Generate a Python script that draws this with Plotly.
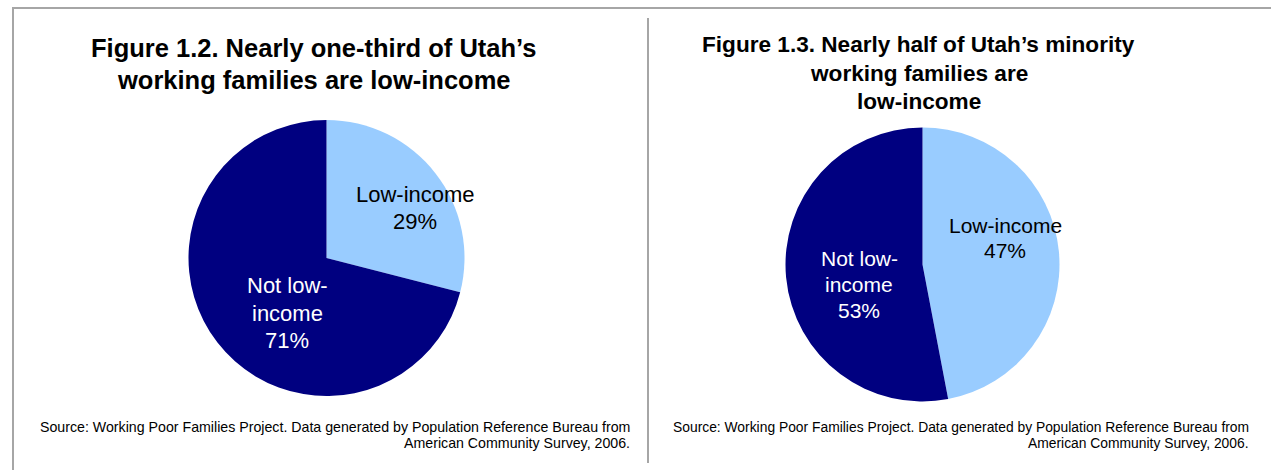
import plotly.graph_objects as go

# ---- data ----
categories = ["Low-income", "Not low-income"]
all_families_pct = [29, 71]
minority_families_pct = [47, 53]

title_left = ["Figure 1.2. Nearly one-third of Utah’s",
              "working families are low-income"]
title_right = ["Figure 1.3. Nearly half of Utah’s minority",
               "working families are",
               "low-income"]
source_lines = ["Source: Working Poor Families Project. Data generated by Population Reference Bureau from",
                "American Community Survey, 2006."]

# ---- styling ----
W, H = 1271, 470
FONT = "Arial, Liberation Sans, sans-serif"
slice_colors = ["#99CCFF", "#000080"]
label_colors = ["#000000", "#FFFFFF"]
rule_color = "#A6A6A6"
# how each category label breaks inside its slice
label_wrap = {"Low-income": ["Low-income"], "Not low-income": ["Not low-", "income"]}


def px(x):
    return x / W


def py(y):
    return 1 - y / H


def domain(cx, cy, r):
    return dict(x=[px(cx - r), px(cx + r)], y=[py(cy + r), py(cy - r)])


fig = go.Figure()

pies = [
    dict(values=all_families_pct, center=(326.5, 258), r=138),
    dict(values=minority_families_pct, center=(922.5, 264.5), r=137),
]

for p in pies:
    fig.add_trace(go.Pie(
        labels=categories,
        values=p["values"],
        sort=False,
        direction="clockwise",
        rotation=0,
        marker=dict(colors=slice_colors, line=dict(width=0)),
        textinfo="none",
        hoverinfo="label+percent",
        showlegend=False,
        domain=domain(p["center"][0], p["center"][1], p["r"]),
    ))

annotations = []


def add_text(x, y, text, size, color="#000000", bold=False, xanchor="center"):
    annotations.append(dict(
        x=px(x), y=py(y), xref="paper", yref="paper",
        text=f"<b>{text}</b>" if bold else text,
        showarrow=False, xanchor=xanchor, yanchor="middle",
        font=dict(family=FONT, size=size, color=color),
    ))


# slice labels: (pie values, font size, [(x, first line y, line pitch) per slice])
label_spots = [
    (all_families_pct, 22, [(415, 194.5, 27), (287, 285.5, 27.5)]),
    (minority_families_pct, 21, [(1005, 226, 24.5), (859, 258.7, 26)]),
]
for values, size, spots in label_spots:
    for i, (cat, val) in enumerate(zip(categories, values)):
        lines = label_wrap[cat] + [f"{val}%"]
        x, y0, pitch = spots[i]
        for k, line in enumerate(lines):
            add_text(x, y0 + k * pitch, line, size, color=label_colors[i])

# titles
for line, y in zip(title_left, [48.5, 79.5]):
    add_text(313.5, y, line, 25.5, bold=True)
for line, y in zip(title_right, [45, 73, 101]):
    add_text(918.5, y, line, 22.6, bold=True)

# source notes, right aligned in each panel
for right_x, size in [(631.5, 14.2), (1250.5, 13.85)]:
    for line, y in zip(source_lines, [426.7, 443]):
        add_text(right_x, y, line, size, xanchor="right")

shapes = [
    # outer frame (top and left rules) and the panel divider
    dict(type="line", xref="paper", yref="paper", x0=px(12), x1=px(W), y0=py(8), y1=py(8),
         line=dict(color=rule_color, width=2)),
    dict(type="line", xref="paper", yref="paper", x0=px(13), x1=px(13), y0=py(8), y1=py(H),
         line=dict(color=rule_color, width=2)),
    dict(type="line", xref="paper", yref="paper", x0=px(648), x1=px(648), y0=py(18), y1=py(463),
         line=dict(color=rule_color, width=2)),
]

fig.update_layout(
    width=W, height=H,
    margin=dict(l=0, r=0, t=0, b=0),
    paper_bgcolor="white", plot_bgcolor="white",
    annotations=annotations,
    shapes=shapes,
)

fig.write_html("out.html")
